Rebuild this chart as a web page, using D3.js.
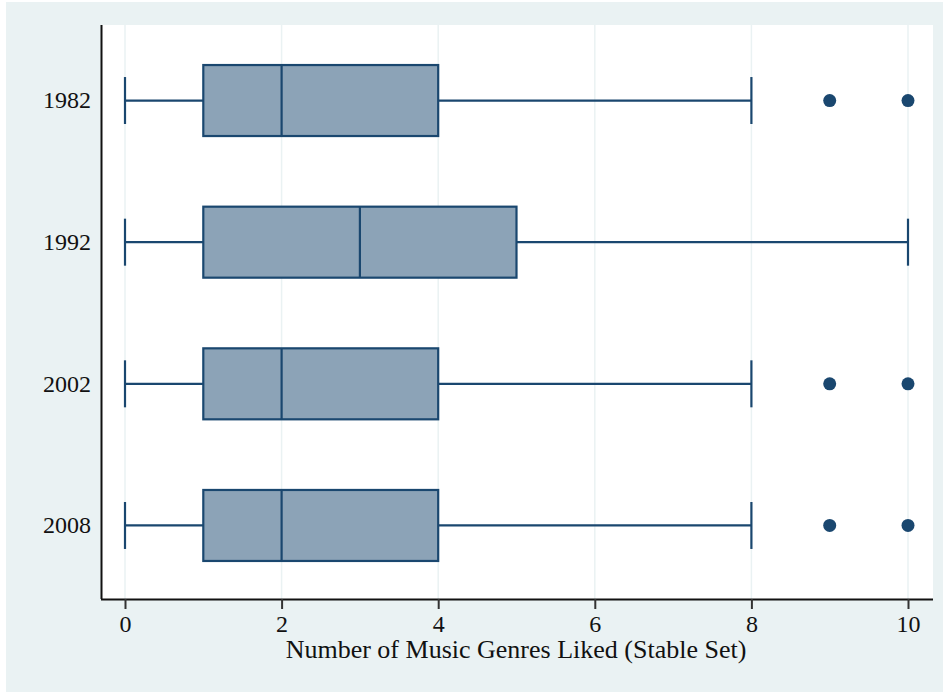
<!DOCTYPE html>
<html>
<head>
<meta charset="utf-8">
<script src="https://cdn.jsdelivr.net/npm/d3@7"></script>
<style>
  body { margin: 0; background: #fff; }
  text { font-family: "Liberation Serif", "DejaVu Serif", serif; fill: #111; }
</style>
</head>
<body>
<div id="chart-area"></div>
<script>
// box plot summaries per survey year
var years = ['1982', '1992', '2002', '2008'];
var mins = [0, 0, 0, 0];
var q1s = [1, 1, 1, 1];
var medians = [2, 3, 2, 2];
var q3s = [4, 5, 4, 4];
var maxs = [8, 10, 8, 8];
var outliers = [[9, 10], [], [9, 10], [9, 10]];
var xTicks = [0, 2, 4, 6, 8, 10];

var W = 943, H = 692;
var margin = { left: 101, top: 25, right: 10, bottom: 93 };
var width = 933 - margin.left, height = 599 - margin.top;

var svg = d3.select('#chart-area').append('svg')
  .attr('width', W).attr('height', H);

// outer background
svg.append('rect').attr('x', 6).attr('y', 2).attr('width', W - 6).attr('height', H - 2)
  .attr('fill', '#eaf2f3');

var g = svg.append('g').attr('transform', 'translate(' + margin.left + ',' + margin.top + ')');

g.append('rect').attr('width', width).attr('height', height).attr('fill', '#fff');

var x = d3.scaleLinear().domain([0, 10]).range([125 - margin.left, 908 - margin.left]);
var y = d3.scaleBand().domain(years).range([4, height - 2]).paddingInner(0).paddingOuter(0.005);

// grid
g.selectAll('.grid').data(xTicks).enter().append('line')
  .attr('x1', d => x(d)).attr('x2', d => x(d))
  .attr('y1', 0).attr('y2', height)
  .attr('stroke', '#eaf2f3').attr('stroke-width', 1.5);

var navy = '#1a476f';
var boxH = 71, capH = 47;

var rows = years.map((yr, i) => ({
  year: yr, min: mins[i], q1: q1s[i], med: medians[i], q3: q3s[i], max: maxs[i], out: outliers[i]
}));

var row = g.selectAll('.row').data(rows).enter().append('g')
  .attr('transform', d => 'translate(0,' + (y(d.year) + y.bandwidth() / 2) + ')');

// whiskers
row.append('line').attr('x1', d => x(d.min)).attr('x2', d => x(d.q1))
  .attr('stroke', navy).attr('stroke-width', 2.2);
row.append('line').attr('x1', d => x(d.q3)).attr('x2', d => x(d.max))
  .attr('stroke', navy).attr('stroke-width', 2.2);
row.append('line').attr('x1', d => x(d.min)).attr('x2', d => x(d.min))
  .attr('y1', -capH / 2).attr('y2', capH / 2).attr('stroke', navy).attr('stroke-width', 2.2);
row.append('line').attr('x1', d => x(d.max)).attr('x2', d => x(d.max))
  .attr('y1', -capH / 2).attr('y2', capH / 2).attr('stroke', navy).attr('stroke-width', 2.2);

// box
row.append('rect')
  .attr('x', d => x(d.q1)).attr('y', -boxH / 2)
  .attr('width', d => x(d.q3) - x(d.q1)).attr('height', boxH)
  .attr('fill', '#8ca3b7').attr('stroke', navy).attr('stroke-width', 2.2);
row.append('line').attr('x1', d => x(d.med)).attr('x2', d => x(d.med))
  .attr('y1', -boxH / 2).attr('y2', boxH / 2).attr('stroke', navy).attr('stroke-width', 2.2);

// outside values
row.selectAll('circle').data(d => d.out).enter().append('circle')
  .attr('cx', d => x(d)).attr('cy', 0).attr('r', 6.5).attr('fill', navy);

// axes
var xAxis = d3.axisBottom(x).tickValues(xTicks).tickSize(10).tickPadding(6);
var gx = g.append('g').attr('transform', 'translate(0,' + height + ')').call(xAxis);
gx.select('.domain').attr('d', 'M0,0.5H' + width).attr('stroke', '#111').attr('stroke-width', 2);
gx.selectAll('.tick line').attr('stroke', '#333').attr('stroke-width', 2);
gx.selectAll('.tick text').attr('font-size', '24px').attr('fill', '#111')
  .style('font-family', '"Liberation Serif", serif');

var yAxis = d3.axisLeft(y).tickSize(0).tickPadding(10);
var gy = g.append('g').call(yAxis);
gy.select('.domain').attr('d', 'M0.5,0V' + height).attr('stroke', '#111').attr('stroke-width', 2);
gy.selectAll('.tick text').attr('font-size', '24px').attr('fill', '#111')
  .style('font-family', '"Liberation Serif", serif');

svg.append('text')
  .attr('x', 516).attr('y', 658)
  .attr('text-anchor', 'middle')
  .attr('font-size', '26px')
  .text('Number of Music Genres Liked (Stable Set)');
</script>
</body>
</html>
